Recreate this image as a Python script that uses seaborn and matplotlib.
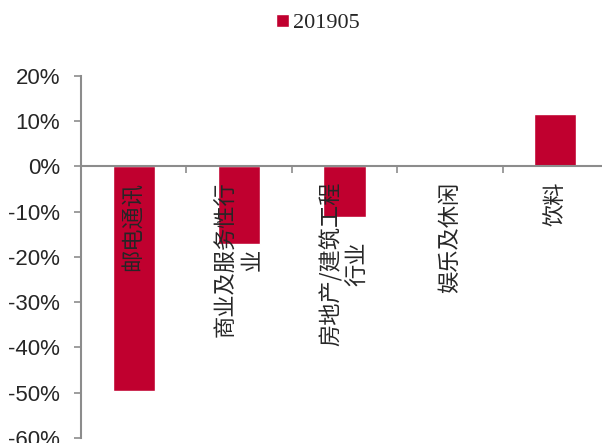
import pandas as pd
import matplotlib.pyplot as plt
import seaborn as sns
from matplotlib.ticker import FuncFormatter, FixedLocator

categories = ['邮电通讯', '商业及服务性行\n业', '房地产/建筑工程\n行业', '娱乐及休闲', '饮料']
values = [-49.7, -17.1, -11.2, 0.0, 11.6]
series_name = '201905'
y_ticks = [-60, -50, -40, -30, -20, -10, 0, 10, 20]

df = pd.DataFrame({'industry': categories, 'value': values})

sns.set_style('white')
plt.rcParams['font.family'] = ['Liberation Sans', 'DejaVu Sans']

bar_color = '#C0002F'
axis_gray = '#8C8C8C'

fig = plt.figure(figsize=(6.02, 4.43), dpi=100)
ax = fig.add_axes([81 / 602, 5 / 443, 527 / 602, 362.3 / 443])

sns.barplot(data=df, x='industry', y='value', color=bar_color, saturation=1,
            width=0.4, label=series_name, ax=ax, errorbar=None)
if ax.get_legend() is not None:
    ax.get_legend().remove()

# labels sit on top of the bars
ax.set_axisbelow(False)

ax.set_xlim(-0.5, len(categories) - 0.5)
ax.set_ylim(-60, 20)
ax.set_yticks(y_ticks)
ax.yaxis.set_major_formatter(FuncFormatter(lambda v, p: f'{v:.0f}%'))
ax.tick_params(axis='y', direction='out', length=5, width=1.2, color=axis_gray,
               labelsize=16, pad=10, left=True)
ax.set_xlabel('')
ax.set_ylabel('')

# zero line with category-boundary ticks, labels hanging below it
for side in ['top', 'right']:
    ax.spines[side].set_visible(False)
ax.spines['left'].set_color(axis_gray)
ax.spines['left'].set_linewidth(1.5)
ax.spines['bottom'].set_position(('data', 0))
ax.spines['bottom'].set_color(axis_gray)
ax.spines['bottom'].set_linewidth(1.5)

ax.set_xticks(range(len(categories)))
ax.set_xticklabels(categories, rotation=90, fontsize=16,
                   family=['Noto Sans CJK SC', 'DejaVu Sans'], ma='center')
ax.xaxis.set_minor_locator(FixedLocator([i + 0.5 for i in range(len(categories))]))
ax.tick_params(axis='x', which='major', length=0, pad=11, bottom=True)
ax.tick_params(axis='x', which='minor', direction='out', length=5, width=1.2,
               color=axis_gray, bottom=True)

handles, labels = ax.get_legend_handles_labels()
fig.legend(handles, labels, loc='center', bbox_to_anchor=(318 / 602, 1 - 23.5 / 443),
           frameon=False, prop={'family': 'Liberation Serif', 'size': 16},
           handlelength=0.55, handleheight=0.55, handletextpad=0.2, borderpad=0)

fig.savefig('out.png', dpi=100)
